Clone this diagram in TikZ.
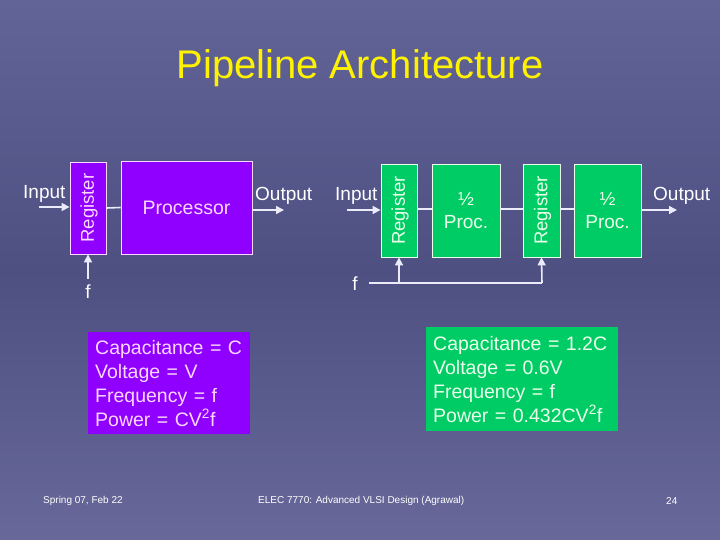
\documentclass[tikz,border=0pt]{standalone}
\usepackage{fontspec}
\setmainfont{Liberation Sans}
\usetikzlibrary{arrows.meta}
\definecolor{bgtop}{RGB}{98,100,152}
\definecolor{bgmid}{RGB}{78,80,130}
\definecolor{bgbot}{RGB}{104,104,154}
\definecolor{purp}{RGB}{143,0,255}
\definecolor{grn}{RGB}{0,204,102}
\definecolor{pinktxt}{RGB}{255,215,255}
\definecolor{grntxt}{RGB}{235,255,235}
\definecolor{wire}{RGB}{235,235,250}
\tikzset{
  pbox/.style={draw=pinktxt, line width=0.8pt, fill=purp, text=pinktxt, inner sep=0pt, font=\fontsize{19.5}{21}\selectfont},
  gbox/.style={draw=grntxt, line width=0.8pt, fill=grn, text=grntxt, inner sep=0pt, font=\fontsize{19}{21}\selectfont, align=center},
  regtxt/.style={rotate=90, font=\fontsize{18.5}{21}\selectfont, inner sep=0pt},
  lbl/.style={text=white, inner sep=0pt, font=\fontsize{19}{21}\selectfont},
  wireln/.style={draw=wire, line width=1.6pt},
  arr/.style={wireln, -{Triangle[length=8pt,width=8pt]}},
  info/.style={inner sep=0pt, inner xsep=7pt, align=left, font=\fontsize{19.5}{24}\selectfont, text width=#1},
  foot/.style={text=white, inner sep=0pt, font=\fontsize{10}{12}\selectfont}
}
\begin{document}
\begin{tikzpicture}[x=1pt,y=-1pt]
\useasboundingbox (0,0) rectangle (720,540);
\shade[top color=bgtop, bottom color=bgbot, middle color=bgmid] (0,0) rectangle (720,540);
% title
\node[text=yellow, inner sep=0pt, font=\fontsize{40}{44}\selectfont] (title) at (360,68) {Pipeline Architecture};
% left part
\node[pbox, minimum width=36pt, minimum height=92pt] (r1) at (88,208) {};
\node[text=pinktxt, regtxt] (r1t) at ([xshift=1pt]r1.center) {Register};
\node[pbox, minimum width=131pt, minimum height=93pt] (p) at (186.5,207.5) {Processor};
\node[lbl, anchor=base west] (in1) at (23,199) {Input};
\coordinate (in1s) at (39,207);
\node[lbl, anchor=base] (f1) at (88,298) {f};
\coordinate (f1s) at (88,279);
\node[lbl, anchor=base west] (out1) at (255,201) {Output};
\coordinate (out1e) at (284,210);
\draw[arr] (in1s) -- (r1.west |- in1s);
\draw[wireln] (r1.east) -- (p.west);
\draw[arr] (f1s) -- (r1.south);
\draw[arr] (p.east |- out1e) -- (out1e);
% right part
\node[gbox, minimum width=36pt, minimum height=93pt] (r2) at (399,210.5) {};
\node[text=grntxt, regtxt] (r2t) at ([xshift=1pt]r2.center) {Register};
\node[gbox, minimum width=68pt, minimum height=93pt] (h1) at (466,210.5) {½\\[2pt]Proc.};
\node[gbox, minimum width=37pt, minimum height=93pt] (r3) at (541.5,210.5) {};
\node[text=grntxt, regtxt] (r3t) at ([xshift=1pt]r3.center) {Register};
\node[gbox, minimum width=67pt, minimum height=93pt] (h2) at (607.5,210.5) {½\\[2pt]Proc.};
\node[lbl, anchor=base west] (in2) at (335,201) {Input};
\coordinate (in2s) at (347,210);
\node[lbl, anchor=base west] (out2) at (653,201) {Output};
\coordinate (out2e) at (677,210);
\draw[arr] (in2s) -- (r2.west |- in2s);
\draw[wireln] (r2.east |- 0,209) -- (h1.west |- 0,209);
\draw[wireln] (h1.east |- 0,209) -- (r3.west |- 0,209);
\draw[wireln] (r3.east |- 0,209) -- (h2.west |- 0,209);
\draw[arr] (h2.east |- out2e) -- (out2e);
\node[lbl, anchor=base] (f2) at (355,290) {f};
\coordinate (fj1) at (399,283);
\coordinate (fj2) at (542,283);
\draw[wireln] (369,283) -- (fj2);
\draw[arr] (fj1) -- (r2.south);
\draw[arr] (fj2) -- (r3.south);
% info boxes
\node[fill=purp, text=pinktxt, info=148pt, minimum height=102pt, anchor=north west] (c1) at (88,332)
  {Capacitance = C\\Voltage = V\\Frequency = f\\Power = CV\textsuperscript{2}f};
\node[fill=grn, text=grntxt, info=178pt, minimum height=104pt, anchor=north west] (c2) at (426,327)
  {Capacitance = 1.2C\\Voltage = 0.6V\\Frequency = f\\Power = 0.432CV\textsuperscript{2}f};
% footer
\node[foot, anchor=west] (ft1) at (43,501) {Spring 07, Feb 22};
\node[foot, anchor=west] (ft2) at (258,501) {ELEC 7770: Advanced VLSI Design (Agrawal)};
\node[foot, anchor=west] (ft3) at (666,501) {24};
\end{tikzpicture}
\end{document}
